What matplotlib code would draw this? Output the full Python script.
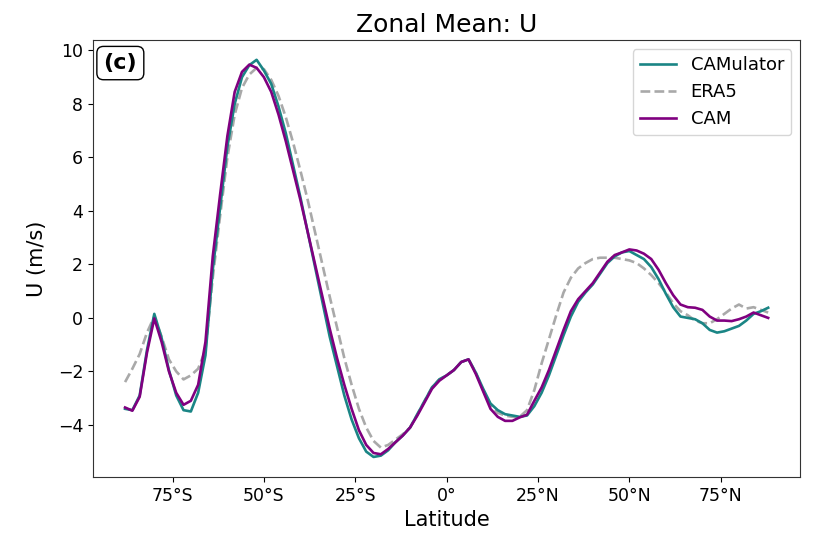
"""Zonal mean of U: CAMulator vs ERA5 vs CAM."""

import matplotlib
matplotlib.use("Agg")
import matplotlib.pyplot as plt
import numpy as np
from matplotlib.ticker import FixedLocator, FuncFormatter

# latitude grid (deg), 2 degree spacing
lat = np.arange(-88, 89, 2)

camulator_u = [
    -3.40, -3.45, -2.90, -1.20, 0.15, -0.75, -1.95, -2.90, -3.45, -3.50,
    -2.80, -1.40, 1.80, 4.10, 6.40, 8.00, 9.00, 9.45, 9.65, 9.25,
    8.75, 7.90, 6.90, 5.70, 4.50, 3.20, 1.90, 0.60, -0.70, -1.80,
    -2.90, -3.80, -4.50, -5.00, -5.20, -5.15, -4.95, -4.65, -4.40, -4.10,
    -3.60, -3.10, -2.60, -2.30, -2.15, -1.95, -1.65, -1.55, -2.05, -2.65,
    -3.20, -3.45, -3.60, -3.65, -3.70, -3.65, -3.30, -2.80, -2.15, -1.40,
    -0.65, 0.05, 0.60, 0.95, 1.25, 1.65, 2.05, 2.30, 2.45, 2.50,
    2.35, 2.20, 1.90, 1.45, 0.90, 0.40, 0.05, 0.00, -0.05, -0.20,
    -0.45, -0.55, -0.50, -0.40, -0.30, -0.10, 0.15, 0.25, 0.38,
]

era5_u = [
    -2.40, -1.90, -1.35, -0.55, 0.05, -0.70, -1.55, -2.00, -2.30, -2.15,
    -1.90, -1.20, 1.50, 3.80, 6.00, 7.60, 8.60, 9.10, 9.35, 9.30,
    8.90, 8.30, 7.50, 6.55, 5.50, 4.40, 3.20, 2.00, 0.80, -0.35,
    -1.50, -2.50, -3.40, -4.10, -4.60, -4.85, -4.75, -4.55, -4.35, -4.10,
    -3.60, -3.10, -2.60, -2.30, -2.15, -1.95, -1.65, -1.55, -2.05, -2.70,
    -3.30, -3.55, -3.65, -3.70, -3.70, -3.45, -2.70, -1.70, -0.80, 0.10,
    0.95, 1.50, 1.85, 2.05, 2.20, 2.25, 2.25, 2.25, 2.20, 2.15,
    2.05, 1.85, 1.60, 1.30, 0.95, 0.55, 0.25, 0.10, -0.10, -0.20,
    -0.20, -0.05, 0.15, 0.35, 0.50, 0.35, 0.40, 0.30, 0.20,
]

cam_u = [
    -3.35, -3.47, -2.95, -1.30, -0.02, -0.90, -2.00, -2.80, -3.25, -3.10,
    -2.50, -0.90, 2.30, 4.60, 6.80, 8.45, 9.20, 9.47, 9.35, 9.00,
    8.45, 7.60, 6.60, 5.50, 4.40, 3.20, 2.00, 0.80, -0.40, -1.50,
    -2.50, -3.40, -4.20, -4.75, -5.05, -5.10, -4.90, -4.65, -4.40, -4.10,
    -3.65, -3.15, -2.65, -2.35, -2.15, -1.95, -1.65, -1.55, -2.10, -2.75,
    -3.40, -3.70, -3.85, -3.85, -3.72, -3.62, -3.10, -2.60, -1.95, -1.20,
    -0.45, 0.25, 0.70, 1.00, 1.30, 1.70, 2.10, 2.35, 2.45, 2.56,
    2.52, 2.40, 2.20, 1.80, 1.30, 0.85, 0.50, 0.40, 0.38, 0.30,
    0.05, -0.10, -0.10, -0.12, -0.05, 0.05, 0.20, 0.10, 0.00,
]

lat_ticks = [-75, -50, -25, 0, 25, 50, 75]


def lat_label(v, pos=None):
    if v == 0:
        return "0°"
    return f"{abs(v):.0f}°{'N' if v > 0 else 'S'}"


fig = plt.figure(figsize=(8.15, 5.4), dpi=100)
ax = fig.add_axes([0.114, 0.117, 0.868, 0.809])

ax.plot(lat, era5_u, color="darkgray", lw=1.9, ls="--", label="ERA5", zorder=1)
ax.plot(lat, camulator_u, color="#1a8585", lw=1.9, label="CAMulator", zorder=2)
ax.plot(lat, cam_u, color="purple", lw=1.9, label="CAM", zorder=3)

ax.xaxis.set_major_locator(FixedLocator(lat_ticks))
ax.xaxis.set_major_formatter(FuncFormatter(lat_label))
ax.tick_params(labelsize=12.5)
for sp in ax.spines.values():
    sp.set_color("#333333")

ax.set_title("Zonal Mean: U", fontsize=18)
ax.set_xlabel("Latitude", fontsize=15)
ax.set_ylabel("U (m/s)", fontsize=15, labelpad=8)

ax.text(0.015, 0.97, "(c)", transform=ax.transAxes, ha="left", va="top",
        fontsize=16, fontweight="bold",
        bbox=dict(boxstyle="round,pad=0.3", fc="white", ec="black"))

handles, labels = ax.get_legend_handles_labels()
order = [1, 0, 2]
ax.legend([handles[i] for i in order], [labels[i] for i in order],
          loc="upper right", fontsize=13)

fig.savefig("out.png", dpi=100)
